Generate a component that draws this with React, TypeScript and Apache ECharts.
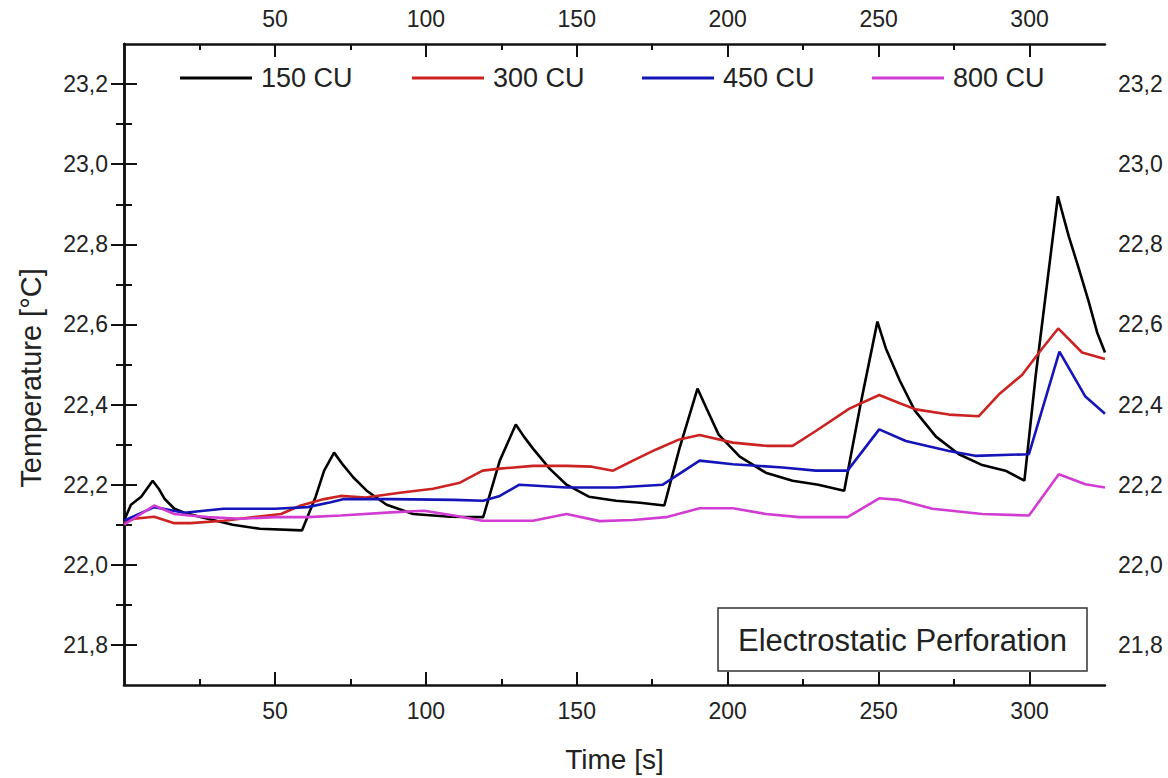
import React, { useEffect, useRef } from "react";
import * as echarts from "echarts";

// ---- Data ----
const seriesNames = ["150 CU", "300 CU", "450 CU", "800 CU"];

const cu150Time = [0, 2.3, 5.7, 9.5, 11.5, 13.4, 16.7, 20, 25, 36, 45, 59, 63.5, 66.3, 69.6, 72.5, 76, 80.4, 87, 95.8, 108, 119, 124.5, 129.8, 132.5, 135.5, 141, 146.6, 154, 163, 171, 179, 184, 190, 193, 197, 204, 212.6, 221.5, 230, 238.6, 244, 249.6, 252.4, 257, 262, 269, 276.6, 284, 292, 298.3, 302, 309.4, 313, 316.3, 319.6, 322.4, 325];
const cu150Temp = [22.11, 22.15, 22.17, 22.21, 22.19, 22.165, 22.14, 22.13, 22.12, 22.1, 22.09, 22.086, 22.17, 22.235, 22.28, 22.25, 22.218, 22.185, 22.15, 22.127, 22.12, 22.119, 22.26, 22.35, 22.32, 22.29, 22.24, 22.2, 22.17, 22.16, 22.155, 22.148, 22.29, 22.44, 22.39, 22.325, 22.27, 22.23, 22.21, 22.2, 22.185, 22.4, 22.607, 22.54, 22.46, 22.385, 22.32, 22.276, 22.25, 22.235, 22.21, 22.47, 22.92, 22.82, 22.74, 22.657, 22.58, 22.53];

const cu300Time = [0, 3.4, 10, 16.7, 22, 33, 44, 52, 58.6, 66.3, 71.8, 80, 91.4, 102.4, 111.3, 118.8, 124.5, 135.5, 146.6, 155, 162, 168.6, 176.3, 184, 190.7, 201.7, 212.7, 221.5, 229.2, 240.3, 250.2, 256.8, 262.3, 273.3, 283.2, 289.8, 297.5, 304.2, 309.5, 317.4, 325];
const cu300Temp = [22.106, 22.115, 22.12, 22.104, 22.104, 22.11, 22.12, 22.127, 22.148, 22.164, 22.172, 22.168, 22.18, 22.19, 22.205, 22.235, 22.24, 22.247, 22.247, 22.245, 22.235, 22.26, 22.288, 22.313, 22.324, 22.305, 22.297, 22.297, 22.334, 22.39, 22.424, 22.404, 22.388, 22.375, 22.371, 22.425, 22.474, 22.54, 22.59, 22.53, 22.514];

const cu450Time = [0, 10, 20, 33, 50, 60.8, 68.5, 72.9, 88.4, 109.3, 119, 124.5, 131, 146.6, 163, 178.5, 190.7, 201.7, 218.2, 229.2, 239.7, 250.2, 259, 273.3, 282, 299.8, 309.9, 318.5, 325];
const cu450Temp = [22.11, 22.144, 22.13, 22.14, 22.14, 22.144, 22.156, 22.164, 22.164, 22.162, 22.16, 22.172, 22.2, 22.193, 22.193, 22.2, 22.26, 22.251, 22.243, 22.235, 22.235, 22.338, 22.309, 22.284, 22.272, 22.276, 22.532, 22.42, 22.377];

const cu800Time = [0, 10, 16.7, 27.7, 38.7, 50, 60.8, 71.8, 88.4, 99.4, 109.3, 118.8, 124.5, 135.5, 146.6, 157.6, 168.6, 179.6, 190.7, 201.7, 212.7, 223.7, 239.7, 250.2, 256.8, 267.8, 284.3, 299.8, 309.7, 318.5, 325];
const cu800Temp = [22.1, 22.148, 22.127, 22.119, 22.115, 22.119, 22.119, 22.123, 22.131, 22.135, 22.123, 22.11, 22.11, 22.11, 22.127, 22.109, 22.112, 22.119, 22.141, 22.141, 22.127, 22.119, 22.119, 22.166, 22.162, 22.14, 22.127, 22.123, 22.226, 22.201, 22.193];

const xMajorTicks = [50, 100, 150, 200, 250, 300];
const xMinorTicks = [25, 75, 125, 175, 225, 275];
const yMajorTicks = [21.8, 22.0, 22.2, 22.4, 22.6, 22.8, 23.0, 23.2];
const yMinorTicks = [21.9, 22.1, 22.3, 22.5, 22.7, 22.9, 23.1];

const xRange = [0, 325];
const yRange = [21.7, 23.3];

const xTitle = "Time [s]";
const yTitle = "Temperature [°C]";
const annotation = "Electrostatic Perforation";

const colors = ["#000000", "#cc2222", "#1414b8", "#d23cd2"];

const FONT = "Arial, 'Liberation Sans', sans-serif";

function pairs(t: number[], v: number[]) {
  return t.map((x, i) => [x, v[i]]);
}

export default function App() {
  const ref = useRef<HTMLDivElement>(null);

  useEffect(() => {
    if (!ref.current) return;
    const chart = echarts.init(ref.current, undefined, { renderer: "svg" });

    const labelStyle = { fontSize: 23, color: "#222", fontFamily: FONT };
    const fmt = (v: number) => v.toFixed(1).replace(".", ",");
    const fmtX = (v: number) => String(Math.round(v));
    const axLine = { show: true, lineStyle: { color: "#111", width: 2.5 } };
    const noLine = { show: false };

    const xBase = { type: "value", min: xRange[0], max: xRange[1], splitLine: { show: false } };
    const yBase = { type: "value", min: yRange[0], max: yRange[1], splitLine: { show: false } };

    const series = [
      pairs(cu150Time, cu150Temp),
      pairs(cu300Time, cu300Temp),
      pairs(cu450Time, cu450Temp),
      pairs(cu800Time, cu800Temp),
    ].map((d, i) => ({
      name: seriesNames[i],
      type: "line",
      data: d,
      xAxisIndex: 0,
      yAxisIndex: 0,
      showSymbol: false,
      symbol: "none",
      color: colors[i],
      lineStyle: { color: colors[i], width: 2.6 },
      z: 2 + i,
    }));

    const legendLefts = [180, 412, 642, 872];

    chart.setOption({
      animation: false,
      backgroundColor: "#ffffff",
      grid: { left: 124, top: 44, right: 63, bottom: 89.5, containLabel: false },
      legend: seriesNames.map((n, i) => ({
        data: [n],
        left: legendLefts[i],
        top: 63,
        padding: 0,
        icon: "rect",
        itemWidth: 72,
        itemHeight: 3,
        textStyle: { fontSize: 27, color: "#222", fontFamily: FONT, lineHeight: 30, padding: [0, 0, 0, 4] },
        selectedMode: false,
      })),
      xAxis: [
        {
          ...xBase,
          position: "bottom",
          axisLine: axLine,
          axisTick: { show: true, inside: true, length: 13, customValues: xMajorTicks, lineStyle: { color: "#111", width: 2 } },
          axisLabel: { ...labelStyle, margin: 14, customValues: xMajorTicks, formatter: fmtX },
          name: xTitle,
          nameLocation: "middle",
          nameGap: 60,
          nameTextStyle: { fontSize: 28, color: "#222", fontFamily: FONT },
        },
        {
          ...xBase,
          position: "bottom",
          axisLine: noLine,
          axisTick: { show: true, inside: true, length: 6, customValues: xMinorTicks, lineStyle: { color: "#111", width: 2 } },
          axisLabel: { show: false },
        },
        {
          ...xBase,
          position: "top",
          axisLine: axLine,
          axisTick: { show: true, inside: true, length: 13, customValues: xMajorTicks, lineStyle: { color: "#111", width: 2 } },
          axisLabel: { ...labelStyle, margin: 14, customValues: xMajorTicks, formatter: fmtX },
        },
        {
          ...xBase,
          position: "top",
          axisLine: noLine,
          axisTick: { show: true, inside: true, length: 6, customValues: xMinorTicks, lineStyle: { color: "#111", width: 2 } },
          axisLabel: { show: false },
        },
      ],
      yAxis: [
        {
          ...yBase,
          position: "left",
          axisLine: axLine,
          axisTick: { show: true, inside: true, length: 13, customValues: yMajorTicks, lineStyle: { color: "#111", width: 2 } },
          axisLabel: { ...labelStyle, margin: 16, customValues: yMajorTicks, formatter: fmt },
        },
        {
          ...yBase,
          position: "left",
          axisLine: noLine,
          axisTick: { show: true, inside: true, length: 8, customValues: yMinorTicks, lineStyle: { color: "#111", width: 2 } },
          axisLabel: { show: false },
        },
        {
          ...yBase,
          position: "right",
          axisLine: axLine,
          axisTick: { show: true, inside: true, length: 13, customValues: yMajorTicks, lineStyle: { color: "#111", width: 2 } },
          axisLabel: { ...labelStyle, margin: 13, customValues: yMajorTicks, formatter: fmt },
        },
        {
          ...yBase,
          position: "right",
          axisLine: noLine,
          axisTick: { show: true, inside: true, length: 8, customValues: yMinorTicks, lineStyle: { color: "#111", width: 2 } },
          axisLabel: { show: false },
        },
      ],
      graphic: [
        {
          type: "text",
          x: 31,
          y: 378,
          rotation: Math.PI / 2,
          style: {
            text: yTitle,
            fontSize: 29,
            fontFamily: FONT,
            fill: "#222",
            align: "center",
            verticalAlign: "middle",
          },
        },
        {
          type: "rect",
          shape: { x: 718, y: 608, width: 369, height: 63 },
          style: { fill: "#fff", stroke: "#333", lineWidth: 1.5 },
          z: 10,
        },
        {
          type: "text",
          x: 902.5,
          y: 640,
          style: {
            text: annotation,
            fontSize: 31,
            fontFamily: FONT,
            fill: "#222",
            align: "center",
            verticalAlign: "middle",
          },
          z: 11,
        },
      ],
      series,
    });

    return () => chart.dispose();
  }, []);

  return (
    <div
      ref={ref}
      style={{ position: "fixed", left: 0, top: 0, width: 1168, height: 778, background: "#fff" }}
    />
  );
}
